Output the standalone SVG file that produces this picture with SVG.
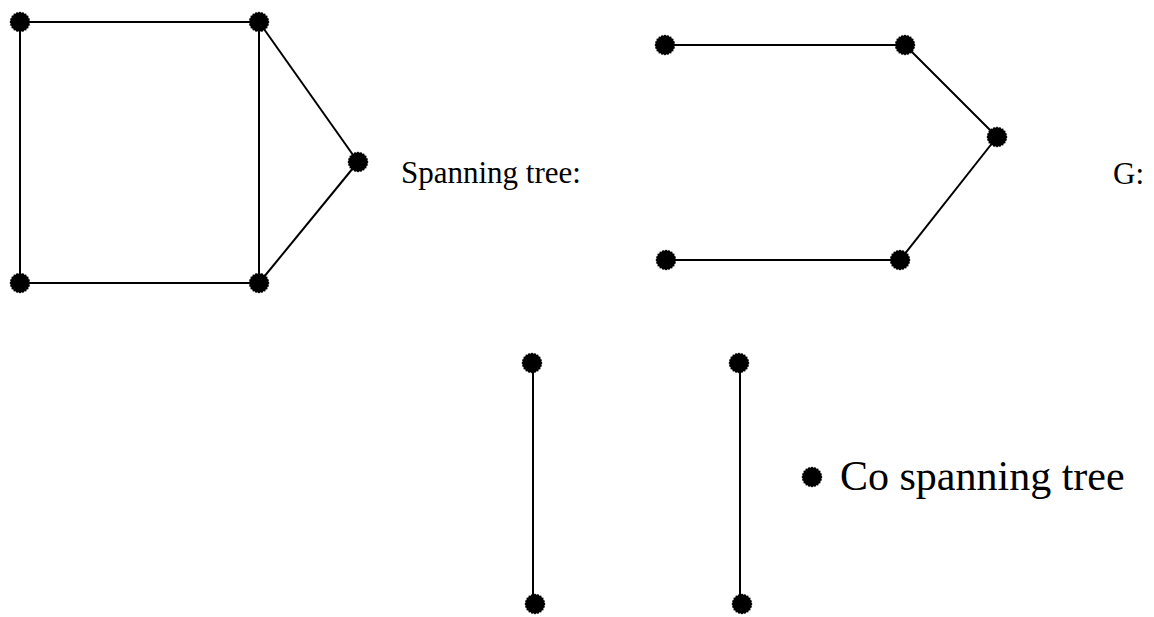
<svg xmlns="http://www.w3.org/2000/svg" width="1154" height="617" viewBox="0 0 1154 617">
<style>
.edge{stroke:#000;stroke-width:2;fill:none}
.lbl{font-family:"Liberation Serif","Times New Roman",serif;fill:#000}
</style>
<defs>
<polygon id="dot" fill="#000" points="10.5,0 9.4,1.5 10.0,3.2 8.4,4.1 8.5,6.2 6.7,6.4 6.2,8.5 4.3,8.3 3.2,10.0 1.5,9.3 0,10.5 -1.5,9.3 -3.2,10.0 -4.3,8.3 -6.2,8.5 -6.7,6.4 -8.5,6.2 -8.4,4.1 -10.0,3.2 -9.4,1.5 -10.5,0 -9.4,-1.5 -10.0,-3.2 -8.4,-4.1 -8.5,-6.2 -6.7,-6.4 -6.2,-8.5 -4.3,-8.3 -3.2,-10.0 -1.5,-9.3 0,-10.5 1.5,-9.3 3.2,-10.0 4.3,-8.3 6.2,-8.5 6.7,-6.4 8.5,-6.2 8.4,-4.1 10.0,-3.2 9.4,-1.5"/>
</defs>
<rect width="1154" height="617" fill="#fff"/>
<g id="connectors">
<line class="edge" x1="20" y1="22" x2="259" y2="22"/>
<line class="edge" x1="20" y1="22" x2="20" y2="283"/>
<line class="edge" x1="20" y1="283" x2="259" y2="283"/>
<line class="edge" x1="259" y1="22" x2="259" y2="283"/>
<line class="edge" x1="259" y1="22" x2="358" y2="162"/>
<line class="edge" x1="358" y1="162" x2="259" y2="283"/>
<line class="edge" x1="665" y1="45" x2="905" y2="45"/>
<line class="edge" x1="905" y1="45" x2="997" y2="137"/>
<line class="edge" x1="997" y1="137" x2="900" y2="260"/>
<line class="edge" x1="900" y1="260" x2="666" y2="260"/>
<line class="edge" x1="533" y1="363" x2="533" y2="604"/>
<line class="edge" x1="740" y1="363" x2="740" y2="604"/>
</g>
<g id="n1"><use href="#dot" x="20" y="22"/></g>
<g id="n2"><use href="#dot" x="259" y="22"/></g>
<g id="n3"><use href="#dot" x="358" y="162"/></g>
<g id="n4"><use href="#dot" x="20" y="283"/></g>
<g id="n5"><use href="#dot" x="259" y="283"/></g>
<g id="t1"><use href="#dot" x="665" y="45"/></g>
<g id="t2"><use href="#dot" x="905" y="45"/></g>
<g id="t3"><use href="#dot" x="997" y="137"/></g>
<g id="t4"><use href="#dot" x="900" y="260"/></g>
<g id="t5"><use href="#dot" x="666" y="260"/></g>
<g id="c1"><use href="#dot" x="532" y="363"/></g>
<g id="c2"><use href="#dot" x="535" y="604"/></g>
<g id="c3"><use href="#dot" x="739" y="363"/></g>
<g id="c4"><use href="#dot" x="742" y="604"/></g>
<g id="label-spanning"><text class="lbl" x="401" y="183" font-size="31">Spanning tree:</text></g>
<g id="label-g"><text class="lbl" x="1113" y="184" font-size="31">G:</text></g>
<g id="legend">
<use href="#dot" x="812" y="477"/>
<text class="lbl" x="840" y="490" font-size="42">Co spanning tree</text>
</g>
</svg>
